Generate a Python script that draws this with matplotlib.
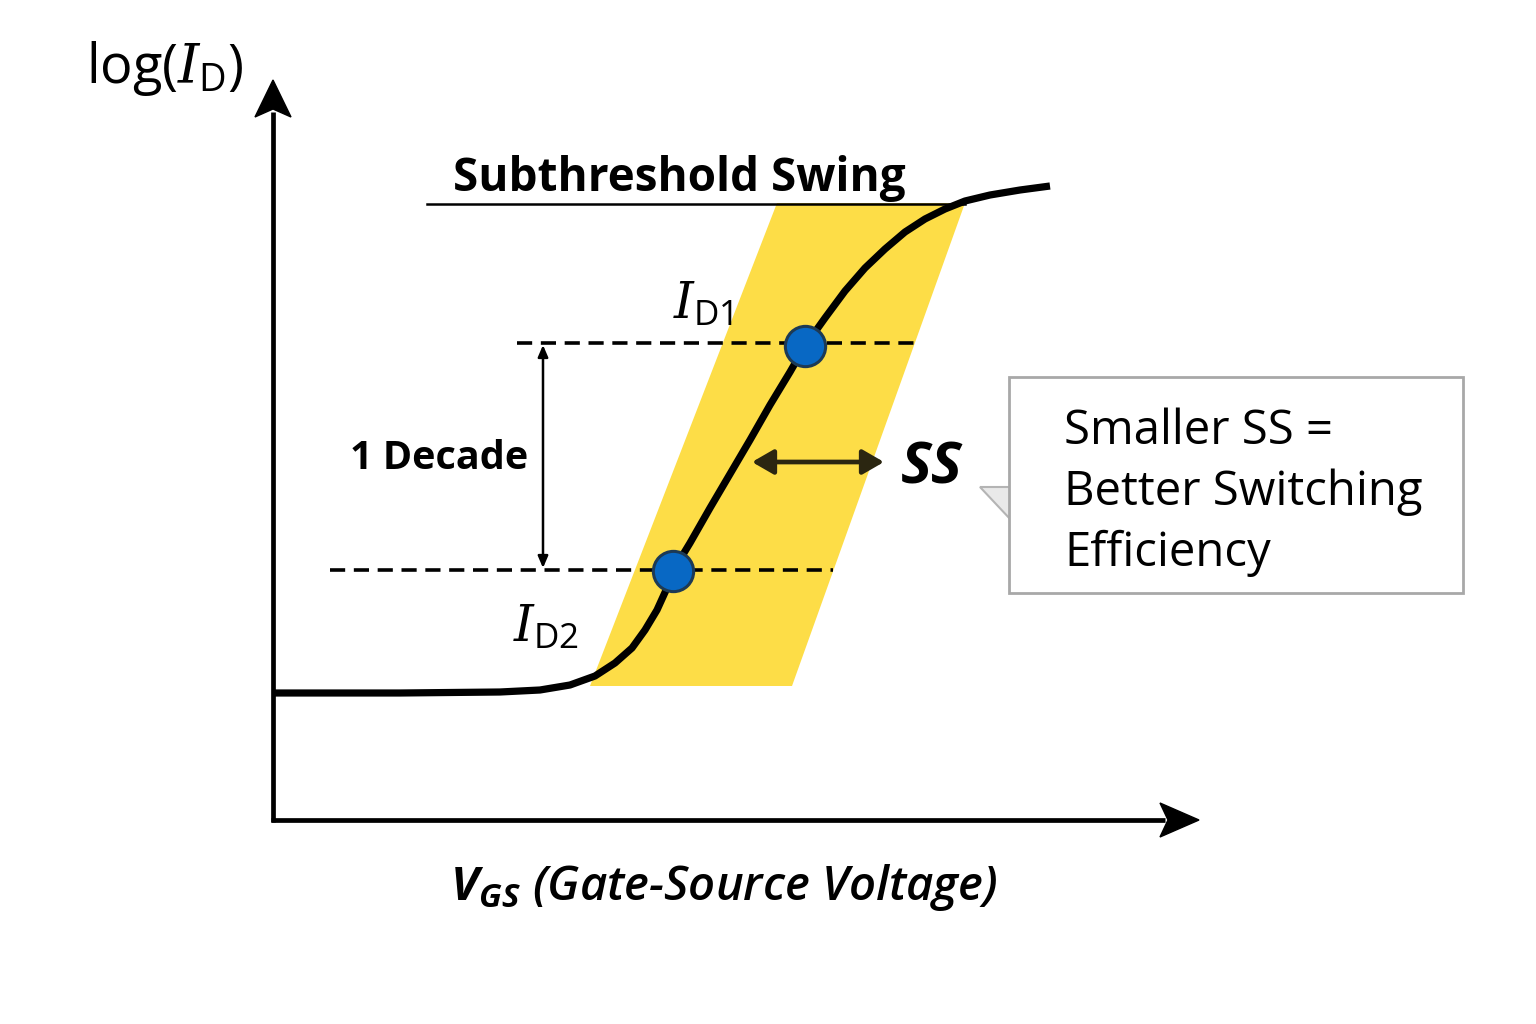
import matplotlib.pyplot as plt
from matplotlib.patches import Polygon, Rectangle

plt.rcParams.update(
    {
        "font.family": ["Open Sans", "DejaVu Sans"],
        "mathtext.fontset": "custom",
        "mathtext.rm": "Open Sans",
        "mathtext.it": "DejaVu Serif:italic",
        "mathtext.bfit": "Open Sans:italic:bold",
    }
)

# Diagram is laid out in a pixel-like data space (x right, y down)
curve_vgs = [275, 400, 500, 540, 570, 595, 615, 632, 645, 657, 667, 673, 690, 710,
             730, 750, 770, 790, 805, 825, 845, 865, 885, 905, 925, 945, 965, 990,
             1020, 1050]
curve_logid = [693, 693, 692, 690, 685, 676, 663, 648, 630, 610, 588, 571, 543, 508,
               474, 440, 405, 372, 346, 318, 291, 268, 249, 232, 219, 209, 201, 195,
               190, 186]

# operating points I_D1 / I_D2
point_vgs = [805, 673]
point_logid = [346, 571]
point_labels = [r"$I_{\mathrm{D1}}$", r"$I_{\mathrm{D2}}$"]
label_pos = [(673, 318), (513, 641)]

# dashed level lines: (y, x_start, x_end)
level_y = [343, 570]
level_x0 = [517, 330]
level_x1 = [922, 833]

# yellow subthreshold band (parallelogram corners)
band_x = [777, 965, 792, 590]
band_y = [203, 203, 686, 686]

callout_lines = ["Smaller SS =", "Better Switching", "Efficiency"]

fig = plt.figure(figsize=(15.36, 10.24), dpi=100)
ax = fig.add_axes([0, 0, 1, 1])
ax.set_xlim(0, 1536)
ax.set_ylim(1024, 0)
ax.axis("off")

ax.add_patch(Polygon(list(zip(band_x, band_y)), closed=True,
                     facecolor="#fddd47", edgecolor="none", zorder=1))

# axes arrows
ax.plot([273, 273], [822, 112], color="black", lw=3.4, zorder=3, solid_capstyle="butt")
ax.plot([271, 1165], [820, 820], color="black", lw=3.4, zorder=3, solid_capstyle="butt")
ax.add_patch(Polygon([(273, 80), (291, 117), (273, 109), (255, 117)],
                     closed=True, color="black", zorder=3))
ax.add_patch(Polygon([(1199, 820), (1160, 803), (1168, 820), (1160, 837)],
                     closed=True, color="black", zorder=3))

ax.plot([427, 965], [204, 204], color="black", lw=1.8, zorder=2)

for y, x0, x1 in zip(level_y, level_x0, level_x1):
    ax.plot([x0, x1], [y, y], color="black", lw=2.6, dashes=(4.2, 2.4), zorder=2)

ax.annotate("", xy=(543, 345), xytext=(543, 568),
            arrowprops=dict(arrowstyle="<|-|>,head_length=0.7,head_width=0.3",
                            color="black", lw=1.8, shrinkA=0, shrinkB=0), zorder=3)

ax.plot(curve_vgs, curve_logid, color="black", lw=5.2, zorder=4,
        solid_capstyle="butt", solid_joinstyle="round")

ax.plot(point_vgs, point_logid, "o", ms=29, mfc="#0868c4", mec="#1d3a55",
        mew=2.2, zorder=5)

ax.annotate("", xy=(752, 462), xytext=(884, 462),
            arrowprops=dict(arrowstyle="<|-|>,head_length=1.3,head_width=0.75",
                            color="#2b2611", lw=3.4, shrinkA=0, shrinkB=0), zorder=5)

# callout box with pointer
ax.add_patch(Polygon([(1011, 487), (980, 487), (1011, 520)], closed=True,
                     facecolor="#e9e9e9", edgecolor="#b4b4b4", lw=1.5, zorder=2))
ax.add_patch(Rectangle((1009, 377), 454, 216, facecolor="white",
                       edgecolor="#a8a8a8", lw=2.0, zorder=3))
for i, line in enumerate(callout_lines):
    ax.text(1064, 444 + i * 61, line, fontsize=34, ha="left", va="baseline",
            zorder=4)

# text labels
ax.text(86, 83, r"log($I_{\mathrm{D}}$)", fontsize=39, ha="left", va="baseline")
ax.text(453, 191, "Subthreshold Swing", fontsize=33, fontweight="bold",
        ha="left", va="baseline")
ax.text(528, 469, "1 Decade", fontsize=28.5, fontweight="bold", ha="right",
        va="baseline")
for lab, (lx, ly) in zip(point_labels, label_pos):
    ax.text(lx, ly, lab, fontsize=36, ha="left", va="baseline")
ax.text(901, 483, "SS", fontsize=42, fontweight="bold", fontstyle="italic",
        ha="left", va="baseline")
ax.text(450, 900, r"$\mathbfit{V}_{\mathbfit{GS}}$ (Gate-Source Voltage)",
        fontsize=34, fontweight="semibold", fontstyle="italic", ha="left",
        va="baseline")

fig.savefig("out.png", dpi=100, facecolor="white")
